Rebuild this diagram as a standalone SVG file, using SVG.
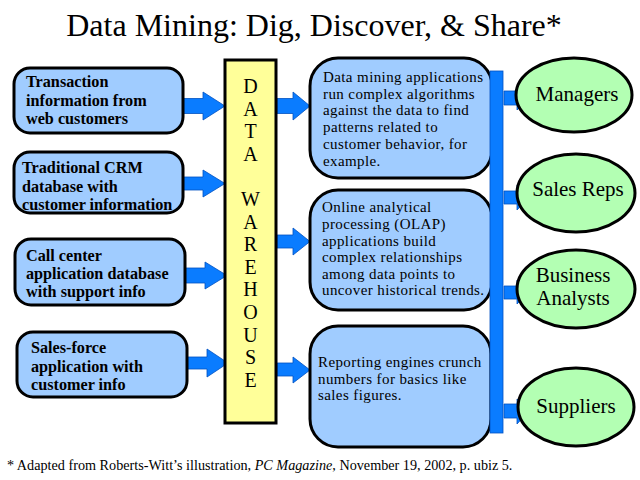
<svg xmlns="http://www.w3.org/2000/svg" width="640" height="480" viewBox="0 0 640 480">
<style>
.src{fill:#A0CCFF;stroke:#000;stroke-width:3}
.dw{fill:#FFFF99;stroke:#000;stroke-width:3}
.ell{fill:#B3FFB3;stroke:#000;stroke-width:3}
.arr{fill:#0A7CFF;stroke:#0050C0;stroke-width:0.8}
.bar{fill:#0A7CFF;stroke:#0050C0;stroke-width:0.8}
.t{font-family:"Liberation Serif","Times New Roman",serif;fill:#000}
.bt{font-family:"Liberation Serif","Times New Roman",serif;font-weight:bold;font-size:16.2px;fill:#000}
.mt{font-family:"Liberation Serif","Times New Roman",serif;font-size:15px;letter-spacing:0.4px;fill:#000}
.dwt{font-family:"Liberation Serif","Times New Roman",serif;font-size:20px;text-anchor:middle;fill:#000}
.et{font-family:"Liberation Serif","Times New Roman",serif;font-size:21px;text-anchor:middle;fill:#000}
</style>
<rect width="640" height="480" fill="#fff"/>
<text class="t" x="314" y="36" font-size="32" text-anchor="middle">Data Mining: Dig, Discover, &amp; Share*</text>

<g id="connectors">
<path class="arr" d="M183,98.5 H203 V92 L225,106 L203,120 V113.5 H183 Z"/>
<path class="arr" d="M183,177 H203 V170 L225,183.5 L203,197 V190 H183 Z"/>
<path class="arr" d="M185,268 H205 V262 L227,275.5 L205,289 V283 H185 Z"/>
<path class="arr" d="M187,357 H207 V349 L228,363 L207,377 V369 H187 Z"/>
<path class="arr" d="M277,98.5 H293 V92 L310,106 L293,120 V113.5 H277 Z"/>
<path class="arr" d="M277,235 H293 V228 L310,241.5 L293,255 V248 H277 Z"/>
<path class="arr" d="M277,363 H293 V357 L310,370 L293,383 V376 H277 Z"/>
<path class="arr" d="M504,91 H517 V86 L529,98 L517,110 V105 H504 Z"/>
<path class="arr" d="M504,191 H517 V185 L529,197 L517,210 V204 H504 Z"/>
<path class="arr" d="M504,286 H517 V280 L529,292 L517,304 V299 H504 Z"/>
<path class="arr" d="M504,404 H517 V399 L529,411 L517,424 V418 H504 Z"/>
</g>

<g id="src1">
<rect class="src" x="14" y="68" width="169" height="65" rx="16"/>
<text class="bt" x="26" y="87">Transaction</text>
<text class="bt" x="26" y="106">information from</text>
<text class="bt" x="26" y="124">web customers</text>
</g>
<g id="src2">
<rect class="src" x="14" y="152" width="169" height="61" rx="16"/>
<text class="bt" x="22" y="173">Traditional CRM</text>
<text class="bt" x="22" y="192">database with</text>
<text class="bt" x="22" y="210">customer information</text>
</g>
<g id="src3">
<rect class="src" x="15" y="239" width="170" height="66" rx="16"/>
<text class="bt" x="26" y="261">Call center</text>
<text class="bt" x="26" y="279">application database</text>
<text class="bt" x="26" y="297">with support info</text>
</g>
<g id="src4">
<rect class="src" x="17" y="332" width="170" height="65" rx="16"/>
<text class="bt" x="31" y="353">Sales-force</text>
<text class="bt" x="31" y="371.5">application with</text>
<text class="bt" x="31" y="389.5">customer info</text>
</g>

<g id="warehouse">
<rect class="dw" x="225" y="60" width="51" height="363"/>
<text class="dwt" x="250.5" y="93">D</text>
<text class="dwt" x="250.5" y="115.6">A</text>
<text class="dwt" x="250.5" y="138.2">T</text>
<text class="dwt" x="250.5" y="160.8">A</text>
<text class="dwt" x="250.5" y="206">W</text>
<text class="dwt" x="250.5" y="228.6">A</text>
<text class="dwt" x="250.5" y="251.2">R</text>
<text class="dwt" x="250.5" y="273.8">E</text>
<text class="dwt" x="250.5" y="296.4">H</text>
<text class="dwt" x="250.5" y="319">O</text>
<text class="dwt" x="250.5" y="341.6">U</text>
<text class="dwt" x="250.5" y="364.2">S</text>
<text class="dwt" x="250.5" y="386.8">E</text>
</g>

<g id="mining">
<rect class="src" x="310" y="58" width="182" height="120" rx="28"/>
<text class="mt" x="323" y="82">Data mining applications</text>
<text class="mt" x="323" y="98.5">run complex algorithms</text>
<text class="mt" x="323" y="115">against the data to find</text>
<text class="mt" x="323" y="132">patterns related to</text>
<text class="mt" x="323" y="149">customer behavior, for</text>
<text class="mt" x="323" y="166">example.</text>
</g>
<g id="olap">
<rect class="src" x="310" y="190" width="182" height="120" rx="28"/>
<text class="mt" x="322" y="212">Online analytical</text>
<text class="mt" x="322" y="229">processing (OLAP)</text>
<text class="mt" x="322" y="246">applications build</text>
<text class="mt" x="322" y="262">complex relationships</text>
<text class="mt" x="322" y="278.5">among data points to</text>
<text class="mt" x="322" y="295">uncover historical trends.</text>
</g>
<g id="reporting">
<rect class="src" x="310" y="326" width="181" height="121" rx="28"/>
<text class="mt" x="318" y="367">Reporting engines crunch</text>
<text class="mt" x="318" y="383.5">numbers for basics like</text>
<text class="mt" x="318" y="400">sales figures.</text>
</g>

<g id="bar">
<rect class="bar" x="490" y="71" width="13" height="362"/>
</g>

<g id="managers">
<ellipse class="ell" cx="574" cy="95" rx="58" ry="37"/>
<text class="et" x="577" y="101">Managers</text>
</g>
<g id="salesreps">
<ellipse class="ell" cx="576" cy="193" rx="59" ry="39"/>
<text class="et" x="578" y="196">Sales Reps</text>
</g>
<g id="analysts">
<ellipse class="ell" cx="576" cy="289" rx="59" ry="39"/>
<text class="et" x="573" y="282">Business</text>
<text class="et" x="573" y="305">Analysts</text>
</g>
<g id="suppliers">
<ellipse class="ell" cx="576" cy="407" rx="58" ry="39"/>
<text class="et" x="576" y="413">Suppliers</text>
</g>

<text class="t" x="7" y="470" font-size="14.2">* Adapted from Roberts-Witt’s illustration, <tspan font-style="italic">PC Magazine</tspan>, November 19, 2002, p. ubiz 5.</text>
</svg>
